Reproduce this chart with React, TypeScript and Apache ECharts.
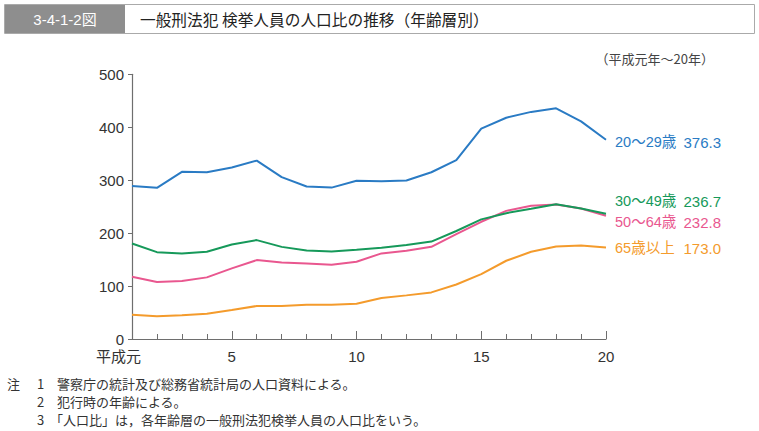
import React, { useEffect, useRef } from "react";
import * as echarts from "echarts";

const years = ["1","2","3","4","5","6","7","8","9","10","11","12","13","14","15","16","17","18","19","20"];
const age20_29 = [289, 285.5, 315.7, 315, 324, 337, 305.7, 288, 286, 299, 298, 299.4, 315, 337.7, 397.5, 418, 429, 435.8, 411, 376.3];
const age30_49 = [180.5, 164, 161.7, 164.8, 178.6, 186.8, 174, 167, 165.4, 168.5, 172.3, 177.4, 184, 204, 226, 237.7, 245.9, 254.7, 246.5, 236.7];
const age50_64 = [117.6, 107.5, 109.4, 116.4, 133.4, 149, 144.7, 142.8, 140.2, 146, 161.7, 166.6, 174.2, 198, 221.4, 242, 251.6, 254, 246.5, 232.8];
const age65 = [45.9, 42.8, 44.7, 47.8, 54.7, 62.3, 62.3, 64.8, 64.8, 66.6, 77.4, 82.4, 88, 103, 122.6, 147.8, 164.7, 174.9, 176.8, 173.0];
const seriesNames = ["20～29歳", "30～49歳", "50～64歳", "65歳以上"];
const seriesColors = ["#2a7bc4", "#16995a", "#e9578f", "#f49b2c"];
const labelYs = [142, 201, 222, 248];
const yTicks = [0, 100, 200, 300, 400, 500];
const notes = [
  ["注", "1", "警察庁の統計及び総務省統計局の人口資料による。"],
  ["", "2", "犯行時の年齢による。"],
  ["", "3", "「人口比」は，各年齢層の一般刑法犯検挙人員の人口比をいう。"],
];

const SANS = "'Liberation Sans', 'Noto Sans CJK JP', sans-serif";
const CJK = "'Noto Sans CJK JP', sans-serif";

export default function App() {
  const ref = useRef<HTMLDivElement>(null);
  useEffect(() => {
    document.body.style.margin = "0";
    const chart = echarts.init(ref.current!, null, { renderer: "svg" });
    const allSeries = [age20_29, age30_49, age50_64, age65];
    const majorIdx = [0, 4, 9, 14, 19];
    const graphic: any[] = [
      { type: "rect", shape: { x: 4.5, y: 4.5, width: 750, height: 29 }, style: { fill: "#fff", stroke: "#aaaaaa", lineWidth: 1 } },
      { type: "rect", shape: { x: 5, y: 5, width: 120, height: 28 }, style: { fill: "#8e8e8e" } },
      { type: "text", x: 65, y: 19, style: { text: "3-4-1-2図", fill: "#fff", font: `15px ${SANS}`, align: "center", verticalAlign: "middle" } },
      { type: "text", x: 140, y: 19, style: { text: "一般刑法犯 検挙人員の人口比の推移（年齢層別）", fill: "#222", font: `15.7px ${CJK}`, align: "left", verticalAlign: "middle" } },
      { type: "text", x: 714, y: 58, style: { text: "（平成元年～20年）", fill: "#444", font: `13px ${CJK}`, align: "right", verticalAlign: "middle" } },
    ];
    allSeries.forEach((s, i) => {
      graphic.push({ type: "text", x: 615, y: labelYs[i], style: { text: seriesNames[i], fill: seriesColors[i], font: `14.5px ${SANS}`, align: "left", verticalAlign: "middle" } });
      graphic.push({ type: "text", x: 721, y: labelYs[i], style: { text: s[s.length - 1].toFixed(1), fill: seriesColors[i], font: `15px ${SANS}`, align: "right", verticalAlign: "middle" } });
    });
    notes.forEach((n, i) => {
      const y = 383 + i * 18;
      if (n[0]) graphic.push({ type: "text", x: 7, y, style: { text: n[0], fill: "#333", font: `13px ${CJK}`, verticalAlign: "middle" } });
      graphic.push({ type: "text", x: 37, y, style: { text: n[1], fill: "#333", font: `13px ${CJK}`, verticalAlign: "middle" } });
      graphic.push({ type: "text", x: n[2].startsWith("「") ? 50 : 57, y, style: { text: n[2], fill: "#333", font: `13px ${CJK}`, verticalAlign: "middle" } });
    });

    const axisLine = { show: true, lineStyle: { color: "#6e6e6e", width: 1.2 } };
    chart.setOption({
      animation: false,
      grid: { left: 132, right: 153, top: 74.3, bottom: 92 },
      xAxis: [
        {
          type: "category",
          data: years,
          boundaryGap: false,
          axisLine,
          axisTick: { show: true, inside: true, length: 5, interval: 0, lineStyle: { color: "#6e6e6e" } },
          axisLabel: {
            interval: (i: number) => majorIdx.includes(i),
            formatter: (v: string) => (v === "1" ? "{first|平成元}" : v),
            color: "#333",
            fontSize: 15,
            fontFamily: SANS,
            margin: 10,
            rich: { first: { fontSize: 15, fontFamily: SANS, color: "#333", padding: [0, 27, 0, 0] } },
          },
          splitLine: { show: false },
        },
        {
          type: "category",
          data: years,
          boundaryGap: false,
          position: "bottom",
          axisLine: { show: false },
          axisTick: { show: true, inside: true, length: 8, interval: (i: number) => i > 0 && majorIdx.includes(i), lineStyle: { color: "#6e6e6e" } },
          axisLabel: { show: false },
          splitLine: { show: false },
        },
      ],
      yAxis: {
        type: "value",
        min: yTicks[0],
        max: yTicks[yTicks.length - 1],
        interval: 100,
        axisLine,
        axisTick: { show: true, length: 4, lineStyle: { color: "#6e6e6e" } },
        axisLabel: { color: "#333", fontSize: 15, fontFamily: SANS, margin: 8 },
        splitLine: { show: false },
      },
      graphic,
      series: allSeries.map((s, i) => ({
        type: "line",
        name: seriesNames[i],
        data: s,
        symbol: "none",
        lineStyle: { color: seriesColors[i], width: 2 },
        itemStyle: { color: seriesColors[i] },
        z: 10 - i,
      })),
    });
    return () => chart.dispose();
  }, []);
  return <div ref={ref} style={{ width: 759, height: 431 }} />;
}
